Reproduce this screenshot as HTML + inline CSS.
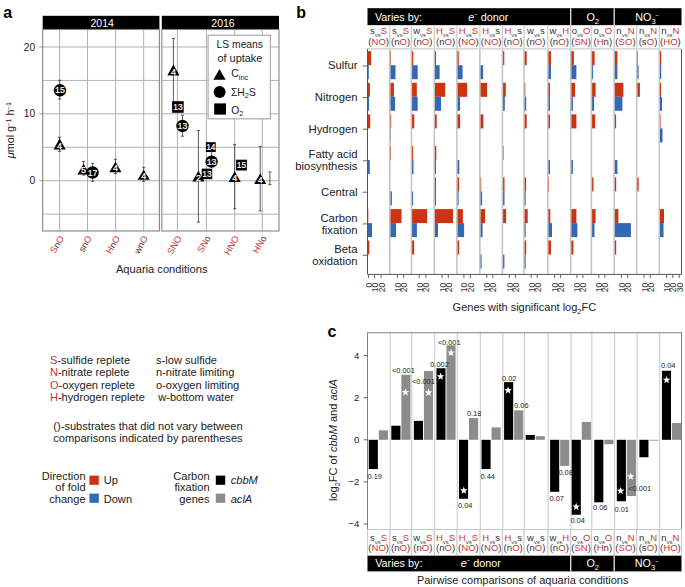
<!DOCTYPE html>
<html><head><meta charset="utf-8"><style>
html,body{margin:0;padding:0;background:#fff;}
svg{display:block;font-family:"Liberation Sans", sans-serif;}
</style></head><body>
<svg width="685" height="587" viewBox="0 0 685 587">
<rect width="685" height="587" fill="#fff"/>
<text x="3.20" y="17.70" font-size="16" fill="#000" text-anchor="start" font-weight="bold" font-style="normal" >a</text>
<text x="296.20" y="17.80" font-size="16" fill="#000" text-anchor="start" font-weight="bold" font-style="normal" >b</text>
<text x="327.60" y="337.20" font-size="16" fill="#000" text-anchor="start" font-weight="bold" font-style="normal" >c</text>
<rect x="42.70" y="15.80" width="116.70" height="13.70" fill="#000" />
<rect x="161.80" y="15.80" width="117.20" height="13.70" fill="#000" />
<text x="102.20" y="26.80" font-size="10.5" fill="#fff" text-anchor="middle" font-weight="normal" font-style="normal" >2014</text>
<text x="223.00" y="26.80" font-size="10.5" fill="#fff" text-anchor="middle" font-weight="normal" font-style="normal" >2016</text>
<line x1="42.70" y1="47.00" x2="159.40" y2="47.00" stroke="#b0b0b0" stroke-width="1.0" />
<line x1="42.70" y1="80.42" x2="159.40" y2="80.42" stroke="#b0b0b0" stroke-width="1.0" />
<line x1="42.70" y1="113.85" x2="159.40" y2="113.85" stroke="#b0b0b0" stroke-width="1.0" />
<line x1="42.70" y1="147.27" x2="159.40" y2="147.27" stroke="#b0b0b0" stroke-width="1.0" />
<line x1="42.70" y1="180.70" x2="159.40" y2="180.70" stroke="#b0b0b0" stroke-width="1.0" />
<line x1="42.70" y1="214.12" x2="159.40" y2="214.12" stroke="#b0b0b0" stroke-width="1.0" />
<line x1="59.60" y1="29.50" x2="59.60" y2="231.00" stroke="#b0b0b0" stroke-width="1.0" />
<line x1="87.50" y1="29.50" x2="87.50" y2="231.00" stroke="#b0b0b0" stroke-width="1.0" />
<line x1="115.60" y1="29.50" x2="115.60" y2="231.00" stroke="#b0b0b0" stroke-width="1.0" />
<line x1="143.70" y1="29.50" x2="143.70" y2="231.00" stroke="#b0b0b0" stroke-width="1.0" />
<rect x="42.70" y="29.50" width="116.70" height="201.50" fill="none" stroke="#858585" stroke-width="1.1"/>
<line x1="161.80" y1="47.00" x2="279.00" y2="47.00" stroke="#b0b0b0" stroke-width="1.0" />
<line x1="161.80" y1="80.42" x2="279.00" y2="80.42" stroke="#b0b0b0" stroke-width="1.0" />
<line x1="161.80" y1="113.85" x2="279.00" y2="113.85" stroke="#b0b0b0" stroke-width="1.0" />
<line x1="161.80" y1="147.27" x2="279.00" y2="147.27" stroke="#b0b0b0" stroke-width="1.0" />
<line x1="161.80" y1="180.70" x2="279.00" y2="180.70" stroke="#b0b0b0" stroke-width="1.0" />
<line x1="161.80" y1="214.12" x2="279.00" y2="214.12" stroke="#b0b0b0" stroke-width="1.0" />
<line x1="177.40" y1="29.50" x2="177.40" y2="231.00" stroke="#b0b0b0" stroke-width="1.0" />
<line x1="206.40" y1="29.50" x2="206.40" y2="231.00" stroke="#b0b0b0" stroke-width="1.0" />
<line x1="234.70" y1="29.50" x2="234.70" y2="231.00" stroke="#b0b0b0" stroke-width="1.0" />
<line x1="262.30" y1="29.50" x2="262.30" y2="231.00" stroke="#b0b0b0" stroke-width="1.0" />
<rect x="161.80" y="29.50" width="117.20" height="201.50" fill="none" stroke="#858585" stroke-width="1.1"/>
<line x1="39.20" y1="47.00" x2="42.70" y2="47.00" stroke="#858585" stroke-width="0.9" />
<text x="35.20" y="50.60" font-size="10.2" fill="#222" text-anchor="end" font-weight="normal" font-style="normal" >20</text>
<line x1="39.20" y1="113.85" x2="42.70" y2="113.85" stroke="#858585" stroke-width="0.9" />
<text x="35.20" y="117.45" font-size="10.2" fill="#222" text-anchor="end" font-weight="normal" font-style="normal" >10</text>
<line x1="39.20" y1="180.70" x2="42.70" y2="180.70" stroke="#858585" stroke-width="0.9" />
<text x="35.20" y="184.30" font-size="10.2" fill="#222" text-anchor="end" font-weight="normal" font-style="normal" >0</text>
<text transform="translate(14.2,130.3) rotate(-90)" font-size="11" fill="#222" text-anchor="middle" textLength="56" lengthAdjust="spacingAndGlyphs"><tspan font-style="italic">&#956;</tspan>mol g<tspan dy="-3.5" font-size="6.5">&#8722;1</tspan><tspan dy="3.5"> h</tspan><tspan dy="-3.5" font-size="6.5">&#8722;1</tspan></text>
<line x1="59.70" y1="80.30" x2="59.70" y2="99.10" stroke="#333" stroke-width="0.8" />
<line x1="58.10" y1="80.30" x2="61.30" y2="80.30" stroke="#333" stroke-width="0.8" />
<line x1="58.10" y1="99.10" x2="61.30" y2="99.10" stroke="#333" stroke-width="0.8" />
<circle cx="60.00" cy="90.30" r="6.2" fill="#000"/>
<text x="60.00" y="93.40" font-size="8.8" fill="#fff" text-anchor="middle" font-weight="normal" font-style="normal" stroke="#fff" stroke-width="0.2">15</text>
<line x1="59.60" y1="137.20" x2="59.60" y2="151.30" stroke="#333" stroke-width="0.8" />
<line x1="58.00" y1="137.20" x2="61.20" y2="137.20" stroke="#333" stroke-width="0.8" />
<line x1="58.00" y1="151.30" x2="61.20" y2="151.30" stroke="#333" stroke-width="0.8" />
<polygon points="59.60,138.50 65.70,149.60 53.50,149.60" fill="#000"/>
<text x="59.60" y="148.60" font-size="9.0" fill="#fff" text-anchor="middle" font-weight="normal" font-style="normal" stroke="#fff" stroke-width="0.25">4</text>
<line x1="83.60" y1="161.50" x2="83.60" y2="175.00" stroke="#333" stroke-width="0.8" />
<line x1="82.00" y1="161.50" x2="85.20" y2="161.50" stroke="#333" stroke-width="0.8" />
<line x1="82.00" y1="175.00" x2="85.20" y2="175.00" stroke="#333" stroke-width="0.8" />
<polygon points="83.60,163.80 89.70,174.40 77.50,174.40" fill="#000"/>
<text x="83.60" y="173.40" font-size="9.0" fill="#fff" text-anchor="middle" font-weight="normal" font-style="normal" stroke="#fff" stroke-width="0.25">5</text>
<line x1="92.60" y1="163.30" x2="92.60" y2="181.30" stroke="#333" stroke-width="0.8" />
<line x1="91.00" y1="163.30" x2="94.20" y2="163.30" stroke="#333" stroke-width="0.8" />
<line x1="91.00" y1="181.30" x2="94.20" y2="181.30" stroke="#333" stroke-width="0.8" />
<circle cx="92.60" cy="172.50" r="6.2" fill="#000"/>
<text x="92.60" y="175.60" font-size="8.8" fill="#fff" text-anchor="middle" font-weight="normal" font-style="normal" stroke="#fff" stroke-width="0.2">17</text>
<line x1="115.40" y1="159.30" x2="115.40" y2="173.60" stroke="#333" stroke-width="0.8" />
<line x1="113.80" y1="159.30" x2="117.00" y2="159.30" stroke="#333" stroke-width="0.8" />
<line x1="113.80" y1="173.60" x2="117.00" y2="173.60" stroke="#333" stroke-width="0.8" />
<polygon points="115.40,161.70 121.50,172.20 109.30,172.20" fill="#000"/>
<text x="115.40" y="171.20" font-size="9.0" fill="#fff" text-anchor="middle" font-weight="normal" font-style="normal" stroke="#fff" stroke-width="0.25">4</text>
<line x1="143.70" y1="167.40" x2="143.70" y2="181.30" stroke="#333" stroke-width="0.8" />
<line x1="142.10" y1="167.40" x2="145.30" y2="167.40" stroke="#333" stroke-width="0.8" />
<line x1="142.10" y1="181.30" x2="145.30" y2="181.30" stroke="#333" stroke-width="0.8" />
<polygon points="143.70,169.80 149.80,179.80 137.60,179.80" fill="#000"/>
<text x="143.70" y="178.80" font-size="9.0" fill="#fff" text-anchor="middle" font-weight="normal" font-style="normal" stroke="#fff" stroke-width="0.25">4</text>
<line x1="173.40" y1="38.50" x2="173.40" y2="104.00" stroke="#333" stroke-width="0.8" />
<line x1="171.80" y1="38.50" x2="175.00" y2="38.50" stroke="#333" stroke-width="0.8" />
<line x1="171.80" y1="104.00" x2="175.00" y2="104.00" stroke="#333" stroke-width="0.8" />
<polygon points="173.40,64.50 179.50,75.50 167.30,75.50" fill="#000"/>
<text x="173.40" y="74.50" font-size="9.0" fill="#fff" text-anchor="middle" font-weight="normal" font-style="normal" stroke="#fff" stroke-width="0.25">4</text>
<rect x="172.10" y="101.20" width="11.60" height="11.60" fill="#000" />
<text x="177.90" y="110.00" font-size="8.4" fill="#fff" text-anchor="middle" font-weight="normal" font-style="normal" stroke="#fff" stroke-width="0.2">13</text>
<line x1="182.50" y1="115.20" x2="182.50" y2="136.20" stroke="#333" stroke-width="0.8" />
<line x1="180.90" y1="115.20" x2="184.10" y2="115.20" stroke="#333" stroke-width="0.8" />
<line x1="180.90" y1="136.20" x2="184.10" y2="136.20" stroke="#333" stroke-width="0.8" />
<circle cx="182.50" cy="126.00" r="6.2" fill="#000"/>
<text x="182.50" y="129.10" font-size="8.8" fill="#fff" text-anchor="middle" font-weight="normal" font-style="normal" stroke="#fff" stroke-width="0.2">13</text>
<line x1="198.40" y1="130.50" x2="198.40" y2="222.10" stroke="#333" stroke-width="0.8" />
<line x1="196.80" y1="130.50" x2="200.00" y2="130.50" stroke="#333" stroke-width="0.8" />
<line x1="196.80" y1="222.10" x2="200.00" y2="222.10" stroke="#333" stroke-width="0.8" />
<polygon points="198.40,170.80 204.50,181.60 192.30,181.60" fill="#000"/>
<text x="198.40" y="180.60" font-size="9.0" fill="#fff" text-anchor="middle" font-weight="normal" font-style="normal" stroke="#fff" stroke-width="0.25">2</text>
<line x1="211.60" y1="150.00" x2="211.60" y2="168.00" stroke="#333" stroke-width="0.8" />
<line x1="211.60" y1="150.00" x2="211.60" y2="150.00" stroke="#333" stroke-width="0.8" />
<line x1="211.60" y1="168.00" x2="211.60" y2="168.00" stroke="#333" stroke-width="0.8" />
<rect x="201.75" y="168.65" width="10.50" height="10.50" fill="#000" />
<text x="207.00" y="176.90" font-size="8.4" fill="#fff" text-anchor="middle" font-weight="normal" font-style="normal" stroke="#fff" stroke-width="0.2">13</text>
<circle cx="211.60" cy="161.60" r="6.2" fill="#000"/>
<text x="211.60" y="164.70" font-size="8.8" fill="#fff" text-anchor="middle" font-weight="normal" font-style="normal" stroke="#fff" stroke-width="0.2">13</text>
<rect x="205.90" y="142.20" width="9.80" height="9.80" fill="#000" />
<text x="210.80" y="150.10" font-size="8.4" fill="#fff" text-anchor="middle" font-weight="normal" font-style="normal" stroke="#fff" stroke-width="0.2">14</text>
<line x1="234.70" y1="144.40" x2="234.70" y2="208.80" stroke="#333" stroke-width="0.8" />
<line x1="233.10" y1="144.40" x2="236.30" y2="144.40" stroke="#333" stroke-width="0.8" />
<line x1="233.10" y1="208.80" x2="236.30" y2="208.80" stroke="#333" stroke-width="0.8" />
<polygon points="234.70,171.20 240.80,182.00 228.60,182.00" fill="#000"/>
<text x="234.70" y="181.00" font-size="9.0" fill="#fff" text-anchor="middle" font-weight="normal" font-style="normal" stroke="#fff" stroke-width="0.25">4</text>
<rect x="236.10" y="159.70" width="10.80" height="10.80" fill="#000" />
<text x="241.50" y="168.10" font-size="8.4" fill="#fff" text-anchor="middle" font-weight="normal" font-style="normal" stroke="#fff" stroke-width="0.2">15</text>
<line x1="260.20" y1="146.40" x2="260.20" y2="210.90" stroke="#333" stroke-width="0.8" />
<line x1="258.60" y1="146.40" x2="261.80" y2="146.40" stroke="#333" stroke-width="0.8" />
<line x1="258.60" y1="210.90" x2="261.80" y2="210.90" stroke="#333" stroke-width="0.8" />
<polygon points="260.20,173.60 266.30,184.00 254.10,184.00" fill="#000"/>
<text x="260.20" y="183.00" font-size="9.0" fill="#fff" text-anchor="middle" font-weight="normal" font-style="normal" stroke="#fff" stroke-width="0.25">4</text>
<line x1="269.90" y1="172.00" x2="269.90" y2="184.70" stroke="#333" stroke-width="0.8" />
<line x1="268.30" y1="172.00" x2="271.50" y2="172.00" stroke="#333" stroke-width="0.8" />
<line x1="268.30" y1="184.70" x2="271.50" y2="184.70" stroke="#333" stroke-width="0.8" />
<rect x="208.10" y="35.30" width="62.30" height="83.50" fill="#fff" stroke="#aaaaaa" stroke-width="1.2"/>
<text x="239.80" y="48.00" font-size="10.3" fill="#222" text-anchor="middle" font-weight="normal" font-style="normal" >LS means</text>
<text x="239.90" y="61.90" font-size="10.3" fill="#222" text-anchor="middle" font-weight="normal" font-style="normal" textLength="45" lengthAdjust="spacingAndGlyphs">of uptake</text>
<polygon points="219.5,68.9 225.6,79.7 213.4,79.7" fill="#000"/>
<circle cx="219.6" cy="92.0" r="6.0" fill="#000"/>
<rect x="214.20" y="103.40" width="11.80" height="11.20" fill="#000" />
<text x="231.30" y="77.40" font-size="10.3" fill="#222" text-anchor="start" font-weight="normal" font-style="normal" >C<tspan font-size="7.4" dy="2.4">inc</tspan></text>
<text x="231.00" y="95.50" font-size="10.3" fill="#222" text-anchor="start" font-weight="normal" font-style="normal" >&#931;H<tspan font-size="7.4" dy="2.4">2</tspan><tspan dy="-2.4">S</tspan></text>
<text x="231.30" y="113.50" font-size="10.3" fill="#222" text-anchor="start" font-weight="normal" font-style="normal" >O<tspan font-size="7.4" dy="2.4">2</tspan></text>
<text transform="translate(64.30,238.10) rotate(-60)" font-size="9.2" text-anchor="end"><tspan fill="#cc3333">S</tspan><tspan fill="#333">n</tspan><tspan fill="#cc3333">O</tspan></text>
<text transform="translate(92.20,238.10) rotate(-60)" font-size="9.2" text-anchor="end"><tspan fill="#333">s</tspan><tspan fill="#333">n</tspan><tspan fill="#cc3333">O</tspan></text>
<text transform="translate(120.30,238.10) rotate(-60)" font-size="9.2" text-anchor="end"><tspan fill="#cc3333">H</tspan><tspan fill="#333">n</tspan><tspan fill="#cc3333">O</tspan></text>
<text transform="translate(148.40,238.10) rotate(-60)" font-size="9.2" text-anchor="end"><tspan fill="#333">w</tspan><tspan fill="#333">n</tspan><tspan fill="#cc3333">O</tspan></text>
<text transform="translate(182.10,238.10) rotate(-60)" font-size="9.2" text-anchor="end"><tspan fill="#cc3333">S</tspan><tspan fill="#cc3333">N</tspan><tspan fill="#cc3333">O</tspan></text>
<text transform="translate(211.10,238.10) rotate(-60)" font-size="9.2" text-anchor="end"><tspan fill="#cc3333">S</tspan><tspan fill="#cc3333">N</tspan><tspan fill="#333">o</tspan></text>
<text transform="translate(239.40,238.10) rotate(-60)" font-size="9.2" text-anchor="end"><tspan fill="#cc3333">H</tspan><tspan fill="#cc3333">N</tspan><tspan fill="#cc3333">O</tspan></text>
<text transform="translate(267.00,238.10) rotate(-60)" font-size="9.2" text-anchor="end"><tspan fill="#cc3333">H</tspan><tspan fill="#cc3333">N</tspan><tspan fill="#333">o</tspan></text>
<text x="115.90" y="273.20" font-size="11.1" fill="#222" text-anchor="start" font-weight="normal" font-style="normal" textLength="91.6" lengthAdjust="spacingAndGlyphs">Aquaria conditions</text>
<rect x="367.50" y="8.20" width="314.00" height="17.20" fill="#000" />
<line x1="570.70" y1="8.20" x2="570.70" y2="25.40" stroke="#d8d8d8" stroke-width="1.4" />
<line x1="614.20" y1="8.20" x2="614.20" y2="25.40" stroke="#d8d8d8" stroke-width="1.4" />
<text x="374.9" y="21.0" font-size="10.8" fill="#fff">Varies by:</text>
<text x="468.2" y="21.0" font-size="10.8" fill="#fff"><tspan font-style="italic">e</tspan><tspan dy="-5" font-size="6">&#8722;</tspan><tspan dy="5"> donor</tspan></text>
<text x="586.4" y="21.0" font-size="10.8" fill="#fff">O<tspan dy="2.5" font-size="7.5">2</tspan></text>
<text x="635.2" y="21.0" font-size="10.8" fill="#fff">NO<tspan dy="2.5" font-size="7.5">3</tspan><tspan dy="-7" font-size="6">&#8722;</tspan></text>
<rect x="367.50" y="25.40" width="314.00" height="22.90" fill="#fff" />
<text x="378.65" y="33.50" font-size="9.5" text-anchor="middle"><tspan fill="#333">s</tspan><tspan fill="#444" font-size="6.0" dy="3.0">vs</tspan><tspan fill="#cc3333" dy="-3.0">S</tspan></text>
<text x="378.65" y="44.70" font-size="9.6" text-anchor="middle"><tspan fill="#333">(</tspan><tspan fill="#cc3333">N</tspan><tspan fill="#cc3333">O</tspan><tspan fill="#333">)</tspan></text>
<text x="400.60" y="33.50" font-size="9.5" text-anchor="middle"><tspan fill="#333">s</tspan><tspan fill="#444" font-size="6.0" dy="3.0">vs</tspan><tspan fill="#cc3333" dy="-3.0">S</tspan></text>
<text x="400.60" y="44.70" font-size="9.6" text-anchor="middle"><tspan fill="#333">(</tspan><tspan fill="#333">n</tspan><tspan fill="#cc3333">O</tspan><tspan fill="#333">)</tspan></text>
<text x="422.85" y="33.50" font-size="9.5" text-anchor="middle"><tspan fill="#333">w</tspan><tspan fill="#444" font-size="6.0" dy="3.0">vs</tspan><tspan fill="#cc3333" dy="-3.0">S</tspan></text>
<text x="422.85" y="44.70" font-size="9.6" text-anchor="middle"><tspan fill="#333">(</tspan><tspan fill="#333">n</tspan><tspan fill="#cc3333">O</tspan><tspan fill="#333">)</tspan></text>
<text x="445.60" y="33.50" font-size="9.5" text-anchor="middle"><tspan fill="#cc3333">H</tspan><tspan fill="#444" font-size="6.0" dy="3.0">vs</tspan><tspan fill="#cc3333" dy="-3.0">S</tspan></text>
<text x="445.60" y="44.70" font-size="9.6" text-anchor="middle"><tspan fill="#333">(</tspan><tspan fill="#333">n</tspan><tspan fill="#cc3333">O</tspan><tspan fill="#333">)</tspan></text>
<text x="468.40" y="33.50" font-size="9.5" text-anchor="middle"><tspan fill="#cc3333">H</tspan><tspan fill="#444" font-size="6.0" dy="3.0">vs</tspan><tspan fill="#cc3333" dy="-3.0">S</tspan></text>
<text x="468.40" y="44.70" font-size="9.6" text-anchor="middle"><tspan fill="#333">(</tspan><tspan fill="#cc3333">N</tspan><tspan fill="#cc3333">O</tspan><tspan fill="#333">)</tspan></text>
<text x="491.15" y="33.50" font-size="9.5" text-anchor="middle"><tspan fill="#cc3333">H</tspan><tspan fill="#444" font-size="6.0" dy="3.0">vs</tspan><tspan fill="#333" dy="-3.0">s</tspan></text>
<text x="491.15" y="44.70" font-size="9.6" text-anchor="middle"><tspan fill="#333">(</tspan><tspan fill="#cc3333">N</tspan><tspan fill="#cc3333">O</tspan><tspan fill="#333">)</tspan></text>
<text x="513.20" y="33.50" font-size="9.5" text-anchor="middle"><tspan fill="#cc3333">H</tspan><tspan fill="#444" font-size="6.0" dy="3.0">vs</tspan><tspan fill="#333" dy="-3.0">s</tspan></text>
<text x="513.20" y="44.70" font-size="9.6" text-anchor="middle"><tspan fill="#333">(</tspan><tspan fill="#333">n</tspan><tspan fill="#cc3333">O</tspan><tspan fill="#333">)</tspan></text>
<text x="535.90" y="33.50" font-size="9.5" text-anchor="middle"><tspan fill="#333">w</tspan><tspan fill="#444" font-size="6.0" dy="3.0">vs</tspan><tspan fill="#333" dy="-3.0">s</tspan></text>
<text x="535.90" y="44.70" font-size="9.6" text-anchor="middle"><tspan fill="#333">(</tspan><tspan fill="#333">n</tspan><tspan fill="#cc3333">O</tspan><tspan fill="#333">)</tspan></text>
<text x="559.25" y="33.50" font-size="9.5" text-anchor="middle"><tspan fill="#333">w</tspan><tspan fill="#444" font-size="6.0" dy="3.0">vs</tspan><tspan fill="#cc3333" dy="-3.0">H</tspan></text>
<text x="559.25" y="44.70" font-size="9.6" text-anchor="middle"><tspan fill="#333">(</tspan><tspan fill="#333">n</tspan><tspan fill="#cc3333">O</tspan><tspan fill="#333">)</tspan></text>
<text x="581.05" y="33.50" font-size="9.5" text-anchor="middle"><tspan fill="#333">o</tspan><tspan fill="#444" font-size="6.0" dy="3.0">vs</tspan><tspan fill="#cc3333" dy="-3.0">O</tspan></text>
<text x="581.05" y="44.70" font-size="9.6" text-anchor="middle"><tspan fill="#333">(</tspan><tspan fill="#cc3333">S</tspan><tspan fill="#cc3333">N</tspan><tspan fill="#333">)</tspan></text>
<text x="602.80" y="33.50" font-size="9.5" text-anchor="middle"><tspan fill="#333">o</tspan><tspan fill="#444" font-size="6.0" dy="3.0">vs</tspan><tspan fill="#cc3333" dy="-3.0">O</tspan></text>
<text x="602.80" y="44.70" font-size="9.6" text-anchor="middle"><tspan fill="#333">(</tspan><tspan fill="#cc3333">H</tspan><tspan fill="#333">n</tspan><tspan fill="#333">)</tspan></text>
<text x="625.45" y="33.50" font-size="9.5" text-anchor="middle"><tspan fill="#333">n</tspan><tspan fill="#444" font-size="6.0" dy="3.0">vs</tspan><tspan fill="#cc3333" dy="-3.0">N</tspan></text>
<text x="625.45" y="44.70" font-size="9.6" text-anchor="middle"><tspan fill="#333">(</tspan><tspan fill="#cc3333">S</tspan><tspan fill="#cc3333">O</tspan><tspan fill="#333">)</tspan></text>
<text x="648.00" y="33.50" font-size="9.5" text-anchor="middle"><tspan fill="#333">n</tspan><tspan fill="#444" font-size="6.0" dy="3.0">vs</tspan><tspan fill="#cc3333" dy="-3.0">N</tspan></text>
<text x="648.00" y="44.70" font-size="9.6" text-anchor="middle"><tspan fill="#333">(</tspan><tspan fill="#333">s</tspan><tspan fill="#cc3333">O</tspan><tspan fill="#333">)</tspan></text>
<text x="670.40" y="33.50" font-size="9.5" text-anchor="middle"><tspan fill="#333">n</tspan><tspan fill="#444" font-size="6.0" dy="3.0">vs</tspan><tspan fill="#cc3333" dy="-3.0">N</tspan></text>
<text x="670.40" y="44.70" font-size="9.6" text-anchor="middle"><tspan fill="#333">(</tspan><tspan fill="#cc3333">H</tspan><tspan fill="#cc3333">O</tspan><tspan fill="#333">)</tspan></text>
<line x1="389.80" y1="25.40" x2="389.80" y2="48.30" stroke="#cccccc" stroke-width="1.3" />
<line x1="411.40" y1="25.40" x2="411.40" y2="48.30" stroke="#cccccc" stroke-width="1.3" />
<line x1="434.30" y1="25.40" x2="434.30" y2="48.30" stroke="#cccccc" stroke-width="1.3" />
<line x1="456.90" y1="25.40" x2="456.90" y2="48.30" stroke="#cccccc" stroke-width="1.3" />
<line x1="479.90" y1="25.40" x2="479.90" y2="48.30" stroke="#cccccc" stroke-width="1.3" />
<line x1="502.40" y1="25.40" x2="502.40" y2="48.30" stroke="#cccccc" stroke-width="1.3" />
<line x1="524.00" y1="25.40" x2="524.00" y2="48.30" stroke="#cccccc" stroke-width="1.3" />
<line x1="547.80" y1="25.40" x2="547.80" y2="48.30" stroke="#cccccc" stroke-width="1.3" />
<line x1="570.70" y1="25.40" x2="570.70" y2="48.30" stroke="#cccccc" stroke-width="1.3" />
<line x1="591.40" y1="25.40" x2="591.40" y2="48.30" stroke="#cccccc" stroke-width="1.3" />
<line x1="614.20" y1="25.40" x2="614.20" y2="48.30" stroke="#cccccc" stroke-width="1.3" />
<line x1="636.70" y1="25.40" x2="636.70" y2="48.30" stroke="#cccccc" stroke-width="1.3" />
<line x1="659.30" y1="25.40" x2="659.30" y2="48.30" stroke="#cccccc" stroke-width="1.3" />
<line x1="367.50" y1="48.90" x2="681.50" y2="48.90" stroke="#cccccc" stroke-width="1.3" />
<line x1="362.80" y1="66.00" x2="367.50" y2="66.00" stroke="#555" stroke-width="0.9" />
<text x="357.50" y="69.30" font-size="11.3" fill="#222" text-anchor="end" font-weight="normal" font-style="normal" >Sulfur</text>
<line x1="362.80" y1="97.60" x2="367.50" y2="97.60" stroke="#555" stroke-width="0.9" />
<text x="357.50" y="100.90" font-size="11.3" fill="#222" text-anchor="end" font-weight="normal" font-style="normal" >Nitrogen</text>
<line x1="362.80" y1="129.20" x2="367.50" y2="129.20" stroke="#555" stroke-width="0.9" />
<text x="357.50" y="132.50" font-size="11.3" fill="#222" text-anchor="end" font-weight="normal" font-style="normal" >Hydrogen</text>
<line x1="362.80" y1="160.80" x2="367.50" y2="160.80" stroke="#555" stroke-width="0.9" />
<text x="357.50" y="158.40" font-size="11.3" fill="#222" text-anchor="end" font-weight="normal" font-style="normal" >Fatty acid</text>
<text x="357.50" y="170.40" font-size="11.3" fill="#222" text-anchor="end" font-weight="normal" font-style="normal" >biosynthesis</text>
<line x1="362.80" y1="192.20" x2="367.50" y2="192.20" stroke="#555" stroke-width="0.9" />
<text x="357.50" y="195.50" font-size="11.3" fill="#222" text-anchor="end" font-weight="normal" font-style="normal" >Central</text>
<line x1="362.80" y1="223.90" x2="367.50" y2="223.90" stroke="#555" stroke-width="0.9" />
<text x="357.50" y="221.50" font-size="11.3" fill="#222" text-anchor="end" font-weight="normal" font-style="normal" >Carbon</text>
<text x="357.50" y="233.50" font-size="11.3" fill="#222" text-anchor="end" font-weight="normal" font-style="normal" >fixation</text>
<line x1="362.80" y1="255.30" x2="367.50" y2="255.30" stroke="#555" stroke-width="0.9" />
<text x="357.50" y="252.90" font-size="11.3" fill="#222" text-anchor="end" font-weight="normal" font-style="normal" >Beta</text>
<text x="357.50" y="264.90" font-size="11.3" fill="#222" text-anchor="end" font-weight="normal" font-style="normal" >oxidation</text>
<line x1="389.80" y1="49.60" x2="389.80" y2="274.40" stroke="#c4c4c4" stroke-width="1.6" />
<line x1="411.40" y1="49.60" x2="411.40" y2="274.40" stroke="#c4c4c4" stroke-width="1.6" />
<line x1="434.30" y1="49.60" x2="434.30" y2="274.40" stroke="#c4c4c4" stroke-width="1.6" />
<line x1="456.90" y1="49.60" x2="456.90" y2="274.40" stroke="#c4c4c4" stroke-width="1.6" />
<line x1="479.90" y1="49.60" x2="479.90" y2="274.40" stroke="#c4c4c4" stroke-width="1.6" />
<line x1="502.40" y1="49.60" x2="502.40" y2="274.40" stroke="#c4c4c4" stroke-width="1.6" />
<line x1="524.00" y1="49.60" x2="524.00" y2="274.40" stroke="#c4c4c4" stroke-width="1.6" />
<line x1="547.80" y1="49.60" x2="547.80" y2="274.40" stroke="#c4c4c4" stroke-width="1.6" />
<line x1="570.70" y1="49.60" x2="570.70" y2="274.40" stroke="#c4c4c4" stroke-width="1.6" />
<line x1="591.40" y1="49.60" x2="591.40" y2="274.40" stroke="#c4c4c4" stroke-width="1.6" />
<line x1="614.20" y1="49.60" x2="614.20" y2="274.40" stroke="#c4c4c4" stroke-width="1.6" />
<line x1="636.70" y1="49.60" x2="636.70" y2="274.40" stroke="#c4c4c4" stroke-width="1.6" />
<line x1="659.30" y1="49.60" x2="659.30" y2="274.40" stroke="#c4c4c4" stroke-width="1.6" />
<line x1="367.50" y1="48.90" x2="367.50" y2="274.40" stroke="#555" stroke-width="1.0" />
<line x1="681.50" y1="48.90" x2="681.50" y2="274.40" stroke="#555" stroke-width="1.0" />
<line x1="367.50" y1="274.40" x2="681.50" y2="274.40" stroke="#555" stroke-width="1.0" />
<rect x="367.80" y="51.20" width="3.30" height="14.00" fill="#cc3311" />
<rect x="367.80" y="65.20" width="1.00" height="14.00" fill="#3368b4" />
<rect x="367.80" y="82.80" width="2.10" height="14.00" fill="#cc3311" />
<rect x="367.80" y="96.80" width="1.20" height="14.00" fill="#3368b4" />
<rect x="367.80" y="114.40" width="2.40" height="14.00" fill="#cc3311" />
<rect x="367.80" y="160.00" width="2.00" height="14.00" fill="#3368b4" />
<rect x="367.80" y="209.10" width="0.50" height="14.00" fill="#cc3311" />
<rect x="367.80" y="223.10" width="4.20" height="14.00" fill="#3368b4" />
<rect x="367.80" y="240.50" width="1.50" height="14.00" fill="#cc3311" />
<rect x="390.50" y="51.20" width="0.50" height="14.00" fill="#cc3311" />
<rect x="390.50" y="65.20" width="5.00" height="14.00" fill="#3368b4" />
<rect x="390.50" y="82.80" width="3.40" height="14.00" fill="#cc3311" />
<rect x="390.50" y="96.80" width="4.60" height="14.00" fill="#3368b4" />
<rect x="390.50" y="114.40" width="0.70" height="14.00" fill="#cc3311" />
<rect x="390.50" y="128.40" width="0.40" height="14.00" fill="#3368b4" />
<rect x="390.50" y="146.00" width="0.50" height="14.00" fill="#cc3311" />
<rect x="390.50" y="191.40" width="1.40" height="14.00" fill="#3368b4" />
<rect x="390.50" y="209.10" width="11.00" height="14.00" fill="#cc3311" />
<rect x="390.50" y="223.10" width="5.50" height="14.00" fill="#3368b4" />
<rect x="412.10" y="51.20" width="1.20" height="14.00" fill="#cc3311" />
<rect x="412.10" y="65.20" width="5.60" height="14.00" fill="#3368b4" />
<rect x="412.10" y="82.80" width="4.70" height="14.00" fill="#cc3311" />
<rect x="412.10" y="96.80" width="5.60" height="14.00" fill="#3368b4" />
<rect x="412.10" y="114.40" width="2.20" height="14.00" fill="#cc3311" />
<rect x="412.10" y="146.00" width="1.00" height="14.00" fill="#cc3311" />
<rect x="412.10" y="160.00" width="1.40" height="14.00" fill="#3368b4" />
<rect x="412.10" y="191.40" width="1.00" height="14.00" fill="#3368b4" />
<rect x="412.10" y="209.10" width="15.00" height="14.00" fill="#cc3311" />
<rect x="412.10" y="223.10" width="4.80" height="14.00" fill="#3368b4" />
<rect x="412.10" y="240.50" width="2.00" height="14.00" fill="#cc3311" />
<rect x="435.00" y="51.20" width="1.00" height="14.00" fill="#cc3311" />
<rect x="435.00" y="65.20" width="4.60" height="14.00" fill="#3368b4" />
<rect x="435.00" y="82.80" width="10.20" height="14.00" fill="#cc3311" />
<rect x="435.00" y="96.80" width="6.00" height="14.00" fill="#3368b4" />
<rect x="435.00" y="114.40" width="1.70" height="14.00" fill="#cc3311" />
<rect x="435.00" y="146.00" width="1.30" height="14.00" fill="#cc3311" />
<rect x="435.00" y="160.00" width="1.00" height="14.00" fill="#3368b4" />
<rect x="435.00" y="177.40" width="1.00" height="14.00" fill="#cc3311" />
<rect x="435.00" y="191.40" width="1.00" height="14.00" fill="#3368b4" />
<rect x="435.00" y="209.10" width="18.00" height="14.00" fill="#cc3311" />
<rect x="435.00" y="223.10" width="3.00" height="14.00" fill="#3368b4" />
<rect x="457.60" y="51.20" width="1.20" height="14.00" fill="#cc3311" />
<rect x="457.60" y="65.20" width="5.00" height="14.00" fill="#3368b4" />
<rect x="457.60" y="82.80" width="9.50" height="14.00" fill="#cc3311" />
<rect x="457.60" y="96.80" width="2.50" height="14.00" fill="#3368b4" />
<rect x="457.60" y="114.40" width="2.50" height="14.00" fill="#cc3311" />
<rect x="457.60" y="160.00" width="1.70" height="14.00" fill="#3368b4" />
<rect x="457.60" y="177.40" width="1.50" height="14.00" fill="#cc3311" />
<rect x="457.60" y="191.40" width="1.00" height="14.00" fill="#3368b4" />
<rect x="457.60" y="209.10" width="5.30" height="14.00" fill="#cc3311" />
<rect x="457.60" y="223.10" width="6.50" height="14.00" fill="#3368b4" />
<rect x="457.60" y="240.50" width="1.50" height="14.00" fill="#cc3311" />
<rect x="480.60" y="65.20" width="2.50" height="14.00" fill="#3368b4" />
<rect x="480.60" y="82.80" width="6.50" height="14.00" fill="#cc3311" />
<rect x="480.60" y="114.40" width="2.80" height="14.00" fill="#cc3311" />
<rect x="480.60" y="177.40" width="0.60" height="14.00" fill="#cc3311" />
<rect x="480.60" y="191.40" width="1.50" height="14.00" fill="#3368b4" />
<rect x="480.60" y="209.10" width="4.50" height="14.00" fill="#cc3311" />
<rect x="480.60" y="223.10" width="2.00" height="14.00" fill="#3368b4" />
<rect x="480.60" y="254.50" width="1.00" height="14.00" fill="#3368b4" />
<rect x="503.10" y="51.20" width="1.20" height="14.00" fill="#cc3311" />
<rect x="503.10" y="82.80" width="2.70" height="14.00" fill="#cc3311" />
<rect x="503.10" y="96.80" width="1.70" height="14.00" fill="#3368b4" />
<rect x="503.10" y="146.00" width="0.50" height="14.00" fill="#cc3311" />
<rect x="503.10" y="177.40" width="1.40" height="14.00" fill="#cc3311" />
<rect x="503.10" y="191.40" width="1.40" height="14.00" fill="#3368b4" />
<rect x="503.10" y="209.10" width="3.00" height="14.00" fill="#cc3311" />
<rect x="503.10" y="254.50" width="1.30" height="14.00" fill="#3368b4" />
<rect x="524.70" y="51.20" width="2.00" height="14.00" fill="#cc3311" />
<rect x="524.70" y="82.80" width="0.60" height="14.00" fill="#cc3311" />
<rect x="524.70" y="96.80" width="1.50" height="14.00" fill="#3368b4" />
<rect x="524.70" y="114.40" width="2.00" height="14.00" fill="#cc3311" />
<rect x="524.70" y="177.40" width="1.40" height="14.00" fill="#cc3311" />
<rect x="524.70" y="191.40" width="1.00" height="14.00" fill="#3368b4" />
<rect x="524.70" y="209.10" width="3.00" height="14.00" fill="#cc3311" />
<rect x="524.70" y="223.10" width="1.00" height="14.00" fill="#3368b4" />
<rect x="524.70" y="240.50" width="1.50" height="14.00" fill="#cc3311" />
<rect x="524.70" y="254.50" width="1.00" height="14.00" fill="#3368b4" />
<rect x="548.50" y="51.20" width="2.50" height="14.00" fill="#cc3311" />
<rect x="548.50" y="65.20" width="2.50" height="14.00" fill="#3368b4" />
<rect x="548.50" y="82.80" width="1.50" height="14.00" fill="#cc3311" />
<rect x="548.50" y="96.80" width="1.50" height="14.00" fill="#3368b4" />
<rect x="548.50" y="114.40" width="1.50" height="14.00" fill="#cc3311" />
<rect x="548.50" y="160.00" width="1.50" height="14.00" fill="#3368b4" />
<rect x="548.50" y="177.40" width="0.50" height="14.00" fill="#cc3311" />
<rect x="548.50" y="209.10" width="1.80" height="14.00" fill="#cc3311" />
<rect x="548.50" y="223.10" width="3.50" height="14.00" fill="#3368b4" />
<rect x="548.50" y="240.50" width="2.50" height="14.00" fill="#cc3311" />
<rect x="571.40" y="51.20" width="2.50" height="14.00" fill="#cc3311" />
<rect x="571.40" y="65.20" width="5.00" height="14.00" fill="#3368b4" />
<rect x="571.40" y="82.80" width="3.70" height="14.00" fill="#cc3311" />
<rect x="571.40" y="96.80" width="1.50" height="14.00" fill="#3368b4" />
<rect x="571.40" y="114.40" width="5.00" height="14.00" fill="#cc3311" />
<rect x="571.40" y="160.00" width="1.50" height="14.00" fill="#3368b4" />
<rect x="571.40" y="209.10" width="5.00" height="14.00" fill="#cc3311" />
<rect x="571.40" y="223.10" width="6.00" height="14.00" fill="#3368b4" />
<rect x="571.40" y="240.50" width="2.00" height="14.00" fill="#cc3311" />
<rect x="592.10" y="51.20" width="2.50" height="14.00" fill="#cc3311" />
<rect x="592.10" y="65.20" width="1.00" height="14.00" fill="#3368b4" />
<rect x="592.10" y="82.80" width="3.50" height="14.00" fill="#cc3311" />
<rect x="592.10" y="96.80" width="2.00" height="14.00" fill="#3368b4" />
<rect x="592.10" y="114.40" width="3.00" height="14.00" fill="#cc3311" />
<rect x="592.10" y="177.40" width="1.40" height="14.00" fill="#cc3311" />
<rect x="592.10" y="209.10" width="3.50" height="14.00" fill="#cc3311" />
<rect x="592.10" y="223.10" width="2.40" height="14.00" fill="#3368b4" />
<rect x="614.90" y="51.20" width="2.50" height="14.00" fill="#cc3311" />
<rect x="614.90" y="65.20" width="2.50" height="14.00" fill="#3368b4" />
<rect x="614.90" y="82.80" width="8.50" height="14.00" fill="#cc3311" />
<rect x="614.90" y="96.80" width="7.50" height="14.00" fill="#3368b4" />
<rect x="614.90" y="114.40" width="1.20" height="14.00" fill="#cc3311" />
<rect x="614.90" y="160.00" width="2.50" height="14.00" fill="#3368b4" />
<rect x="614.90" y="177.40" width="1.30" height="14.00" fill="#cc3311" />
<rect x="614.90" y="209.10" width="3.50" height="14.00" fill="#cc3311" />
<rect x="614.90" y="223.10" width="16.00" height="14.00" fill="#3368b4" />
<rect x="614.90" y="240.50" width="1.30" height="14.00" fill="#cc3311" />
<rect x="637.40" y="51.20" width="0.50" height="14.00" fill="#cc3311" />
<rect x="637.40" y="65.20" width="1.20" height="14.00" fill="#3368b4" />
<rect x="637.40" y="82.80" width="2.50" height="14.00" fill="#cc3311" />
<rect x="637.40" y="177.40" width="1.30" height="14.00" fill="#cc3311" />
<rect x="660.00" y="51.20" width="1.20" height="14.00" fill="#cc3311" />
<rect x="660.00" y="65.20" width="1.20" height="14.00" fill="#3368b4" />
<rect x="660.00" y="82.80" width="1.00" height="14.00" fill="#cc3311" />
<rect x="660.00" y="96.80" width="2.00" height="14.00" fill="#3368b4" />
<rect x="660.00" y="114.40" width="0.50" height="14.00" fill="#cc3311" />
<rect x="660.00" y="128.40" width="2.50" height="14.00" fill="#3368b4" />
<rect x="660.00" y="209.10" width="4.00" height="14.00" fill="#cc3311" />
<rect x="660.00" y="223.10" width="3.50" height="14.00" fill="#3368b4" />
<line x1="368.50" y1="274.40" x2="368.50" y2="278.00" stroke="#555" stroke-width="0.9" />
<text transform="translate(371.90,282.6) rotate(-90)" font-size="8.6" fill="#333" text-anchor="end">0</text>
<line x1="374.60" y1="274.40" x2="374.60" y2="278.00" stroke="#555" stroke-width="0.9" />
<text transform="translate(378.00,282.6) rotate(-90)" font-size="8.6" fill="#333" text-anchor="end">10</text>
<line x1="381.10" y1="274.40" x2="381.10" y2="278.00" stroke="#555" stroke-width="0.9" />
<text transform="translate(384.50,282.6) rotate(-90)" font-size="8.6" fill="#333" text-anchor="end">20</text>
<line x1="397.50" y1="274.40" x2="397.50" y2="278.00" stroke="#555" stroke-width="0.9" />
<text transform="translate(400.90,282.6) rotate(-90)" font-size="8.6" fill="#333" text-anchor="end">10</text>
<line x1="403.60" y1="274.40" x2="403.60" y2="278.00" stroke="#555" stroke-width="0.9" />
<text transform="translate(407.00,282.6) rotate(-90)" font-size="8.6" fill="#333" text-anchor="end">20</text>
<line x1="419.20" y1="274.40" x2="419.20" y2="278.00" stroke="#555" stroke-width="0.9" />
<text transform="translate(422.60,282.6) rotate(-90)" font-size="8.6" fill="#333" text-anchor="end">10</text>
<line x1="425.90" y1="274.40" x2="425.90" y2="278.00" stroke="#555" stroke-width="0.9" />
<text transform="translate(429.30,282.6) rotate(-90)" font-size="8.6" fill="#333" text-anchor="end">20</text>
<line x1="442.10" y1="274.40" x2="442.10" y2="278.00" stroke="#555" stroke-width="0.9" />
<text transform="translate(445.50,282.6) rotate(-90)" font-size="8.6" fill="#333" text-anchor="end">10</text>
<line x1="448.30" y1="274.40" x2="448.30" y2="278.00" stroke="#555" stroke-width="0.9" />
<text transform="translate(451.70,282.6) rotate(-90)" font-size="8.6" fill="#333" text-anchor="end">20</text>
<line x1="463.90" y1="274.40" x2="463.90" y2="278.00" stroke="#555" stroke-width="0.9" />
<text transform="translate(467.30,282.6) rotate(-90)" font-size="8.6" fill="#333" text-anchor="end">10</text>
<line x1="470.30" y1="274.40" x2="470.30" y2="278.00" stroke="#555" stroke-width="0.9" />
<text transform="translate(473.70,282.6) rotate(-90)" font-size="8.6" fill="#333" text-anchor="end">20</text>
<line x1="486.80" y1="274.40" x2="486.80" y2="278.00" stroke="#555" stroke-width="0.9" />
<text transform="translate(490.20,282.6) rotate(-90)" font-size="8.6" fill="#333" text-anchor="end">10</text>
<line x1="492.80" y1="274.40" x2="492.80" y2="278.00" stroke="#555" stroke-width="0.9" />
<text transform="translate(496.20,282.6) rotate(-90)" font-size="8.6" fill="#333" text-anchor="end">20</text>
<line x1="509.30" y1="274.40" x2="509.30" y2="278.00" stroke="#555" stroke-width="0.9" />
<text transform="translate(512.70,282.6) rotate(-90)" font-size="8.6" fill="#333" text-anchor="end">10</text>
<line x1="515.40" y1="274.40" x2="515.40" y2="278.00" stroke="#555" stroke-width="0.9" />
<text transform="translate(518.80,282.6) rotate(-90)" font-size="8.6" fill="#333" text-anchor="end">20</text>
<line x1="531.10" y1="274.40" x2="531.10" y2="278.00" stroke="#555" stroke-width="0.9" />
<text transform="translate(534.50,282.6) rotate(-90)" font-size="8.6" fill="#333" text-anchor="end">10</text>
<line x1="537.20" y1="274.40" x2="537.20" y2="278.00" stroke="#555" stroke-width="0.9" />
<text transform="translate(540.60,282.6) rotate(-90)" font-size="8.6" fill="#333" text-anchor="end">20</text>
<line x1="554.60" y1="274.40" x2="554.60" y2="278.00" stroke="#555" stroke-width="0.9" />
<text transform="translate(558.00,282.6) rotate(-90)" font-size="8.6" fill="#333" text-anchor="end">10</text>
<line x1="560.60" y1="274.40" x2="560.60" y2="278.00" stroke="#555" stroke-width="0.9" />
<text transform="translate(564.00,282.6) rotate(-90)" font-size="8.6" fill="#333" text-anchor="end">20</text>
<line x1="576.90" y1="274.40" x2="576.90" y2="278.00" stroke="#555" stroke-width="0.9" />
<text transform="translate(580.30,282.6) rotate(-90)" font-size="8.6" fill="#333" text-anchor="end">10</text>
<line x1="582.90" y1="274.40" x2="582.90" y2="278.00" stroke="#555" stroke-width="0.9" />
<text transform="translate(586.30,282.6) rotate(-90)" font-size="8.6" fill="#333" text-anchor="end">20</text>
<line x1="598.90" y1="274.40" x2="598.90" y2="278.00" stroke="#555" stroke-width="0.9" />
<text transform="translate(602.30,282.6) rotate(-90)" font-size="8.6" fill="#333" text-anchor="end">10</text>
<line x1="604.90" y1="274.40" x2="604.90" y2="278.00" stroke="#555" stroke-width="0.9" />
<text transform="translate(608.30,282.6) rotate(-90)" font-size="8.6" fill="#333" text-anchor="end">20</text>
<line x1="621.50" y1="274.40" x2="621.50" y2="278.00" stroke="#555" stroke-width="0.9" />
<text transform="translate(624.90,282.6) rotate(-90)" font-size="8.6" fill="#333" text-anchor="end">10</text>
<line x1="627.70" y1="274.40" x2="627.70" y2="278.00" stroke="#555" stroke-width="0.9" />
<text transform="translate(631.10,282.6) rotate(-90)" font-size="8.6" fill="#333" text-anchor="end">20</text>
<line x1="644.10" y1="274.40" x2="644.10" y2="278.00" stroke="#555" stroke-width="0.9" />
<text transform="translate(647.50,282.6) rotate(-90)" font-size="8.6" fill="#333" text-anchor="end">10</text>
<line x1="650.30" y1="274.40" x2="650.30" y2="278.00" stroke="#555" stroke-width="0.9" />
<text transform="translate(653.70,282.6) rotate(-90)" font-size="8.6" fill="#333" text-anchor="end">20</text>
<line x1="666.60" y1="274.40" x2="666.60" y2="278.00" stroke="#555" stroke-width="0.9" />
<text transform="translate(670.00,282.6) rotate(-90)" font-size="8.6" fill="#333" text-anchor="end">10</text>
<line x1="672.80" y1="274.40" x2="672.80" y2="278.00" stroke="#555" stroke-width="0.9" />
<text transform="translate(676.20,282.6) rotate(-90)" font-size="8.6" fill="#333" text-anchor="end">20</text>
<line x1="679.30" y1="274.40" x2="679.30" y2="278.00" stroke="#555" stroke-width="0.9" />
<text transform="translate(682.70,282.6) rotate(-90)" font-size="8.6" fill="#333" text-anchor="end">30</text>
<text x="452.60" y="311.30" font-size="11.0" fill="#222" text-anchor="start" font-weight="normal" font-style="normal" >Genes with significant log<tspan font-size="7.5" dy="2.5">2</tspan><tspan dy="-2.5">FC</tspan></text>
<line x1="390.20" y1="332.70" x2="390.20" y2="529.60" stroke="#cdcdcd" stroke-width="1.1" />
<line x1="411.80" y1="332.70" x2="411.80" y2="529.60" stroke="#cdcdcd" stroke-width="1.1" />
<line x1="434.70" y1="332.70" x2="434.70" y2="529.60" stroke="#cdcdcd" stroke-width="1.1" />
<line x1="457.30" y1="332.70" x2="457.30" y2="529.60" stroke="#cdcdcd" stroke-width="1.1" />
<line x1="480.30" y1="332.70" x2="480.30" y2="529.60" stroke="#cdcdcd" stroke-width="1.1" />
<line x1="502.80" y1="332.70" x2="502.80" y2="529.60" stroke="#cdcdcd" stroke-width="1.1" />
<line x1="524.40" y1="332.70" x2="524.40" y2="529.60" stroke="#cdcdcd" stroke-width="1.1" />
<line x1="548.20" y1="332.70" x2="548.20" y2="529.60" stroke="#cdcdcd" stroke-width="1.1" />
<line x1="571.10" y1="332.70" x2="571.10" y2="529.60" stroke="#cdcdcd" stroke-width="1.1" />
<line x1="591.80" y1="332.70" x2="591.80" y2="529.60" stroke="#cdcdcd" stroke-width="1.1" />
<line x1="614.60" y1="332.70" x2="614.60" y2="529.60" stroke="#cdcdcd" stroke-width="1.1" />
<line x1="637.10" y1="332.70" x2="637.10" y2="529.60" stroke="#cdcdcd" stroke-width="1.1" />
<line x1="659.70" y1="332.70" x2="659.70" y2="529.60" stroke="#cdcdcd" stroke-width="1.1" />
<rect x="368.77" y="439.80" width="9.10" height="29.26" fill="#000" />
<rect x="378.82" y="430.33" width="9.10" height="9.47" fill="#8c8c8c" />
<rect x="391.32" y="425.70" width="9.10" height="14.10" fill="#000" />
<rect x="401.37" y="374.76" width="9.10" height="65.04" fill="#8c8c8c" />
<rect x="413.87" y="420.86" width="9.10" height="18.94" fill="#000" />
<rect x="423.92" y="370.97" width="9.10" height="68.83" fill="#8c8c8c" />
<rect x="436.42" y="368.23" width="9.10" height="71.57" fill="#000" />
<rect x="446.47" y="345.29" width="9.10" height="94.51" fill="#8c8c8c" />
<rect x="458.97" y="439.80" width="9.10" height="58.94" fill="#000" />
<rect x="469.02" y="418.12" width="9.10" height="21.68" fill="#8c8c8c" />
<rect x="481.52" y="439.80" width="9.10" height="29.26" fill="#000" />
<rect x="491.57" y="427.38" width="9.10" height="12.42" fill="#8c8c8c" />
<rect x="504.07" y="382.12" width="9.10" height="57.68" fill="#000" />
<rect x="514.12" y="410.33" width="9.10" height="29.47" fill="#8c8c8c" />
<rect x="525.70" y="434.96" width="9.10" height="4.84" fill="#000" />
<rect x="535.75" y="436.22" width="9.10" height="3.58" fill="#8c8c8c" />
<rect x="550.10" y="439.80" width="9.10" height="51.99" fill="#000" />
<rect x="560.15" y="439.80" width="9.10" height="26.10" fill="#8c8c8c" />
<rect x="571.72" y="439.80" width="9.10" height="74.94" fill="#000" />
<rect x="581.77" y="421.91" width="9.10" height="17.89" fill="#8c8c8c" />
<rect x="594.27" y="439.80" width="9.10" height="62.52" fill="#000" />
<rect x="604.32" y="439.80" width="9.10" height="4.42" fill="#8c8c8c" />
<rect x="616.82" y="439.80" width="9.10" height="61.47" fill="#000" />
<rect x="626.87" y="439.80" width="9.10" height="56.20" fill="#8c8c8c" />
<rect x="639.37" y="439.80" width="9.10" height="17.47" fill="#000" />
<rect x="649.42" y="439.80" width="9.10" height="0.80" fill="#8c8c8c" />
<rect x="661.92" y="370.76" width="9.10" height="69.04" fill="#000" />
<rect x="671.97" y="422.96" width="9.10" height="16.84" fill="#8c8c8c" />
<rect x="367.50" y="332.70" width="314.00" height="196.90" fill="none" stroke="#808080" stroke-width="1.0"/>
<line x1="363.70" y1="355.60" x2="367.50" y2="355.60" stroke="#555" stroke-width="0.9" />
<text x="359.30" y="359.00" font-size="9.6" fill="#222" text-anchor="end" font-weight="normal" font-style="normal" >4</text>
<line x1="363.70" y1="397.70" x2="367.50" y2="397.70" stroke="#555" stroke-width="0.9" />
<text x="359.30" y="401.10" font-size="9.6" fill="#222" text-anchor="end" font-weight="normal" font-style="normal" >2</text>
<line x1="363.70" y1="439.80" x2="367.50" y2="439.80" stroke="#555" stroke-width="0.9" />
<text x="359.30" y="443.20" font-size="9.6" fill="#222" text-anchor="end" font-weight="normal" font-style="normal" >0</text>
<line x1="363.70" y1="481.90" x2="367.50" y2="481.90" stroke="#555" stroke-width="0.9" />
<text x="359.30" y="485.30" font-size="9.6" fill="#222" text-anchor="end" font-weight="normal" font-style="normal" >&#8722;2</text>
<line x1="363.70" y1="524.00" x2="367.50" y2="524.00" stroke="#555" stroke-width="0.9" />
<text x="359.30" y="527.40" font-size="9.6" fill="#222" text-anchor="end" font-weight="normal" font-style="normal" >&#8722;4</text>
<text transform="translate(337.2,440.1) rotate(-90)" font-size="11.0" fill="#222" text-anchor="middle" textLength="122" lengthAdjust="spacingAndGlyphs">log<tspan font-size="7.5" dy="2.5">2</tspan><tspan dy="-2.5">FC of </tspan><tspan font-style="italic">cbbM</tspan> and <tspan font-style="italic">aclA</tspan></text>
<polygon points="405.50,388.30 406.49,390.94 409.30,391.06 407.10,392.82 407.85,395.54 405.50,393.98 403.15,395.54 403.90,392.82 401.70,391.06 404.51,390.94" fill="#fff"/>
<polygon points="428.50,388.70 429.49,391.34 432.30,391.46 430.10,393.22 430.85,395.94 428.50,394.38 426.15,395.94 426.90,393.22 424.70,391.46 427.51,391.34" fill="#fff"/>
<polygon points="440.60,372.50 441.59,375.14 444.40,375.26 442.20,377.02 442.95,379.74 440.60,378.18 438.25,379.74 439.00,377.02 436.80,375.26 439.61,375.14" fill="#fff"/>
<polygon points="451.10,348.80 452.09,351.44 454.90,351.56 452.70,353.32 453.45,356.04 451.10,354.48 448.75,356.04 449.50,353.32 447.30,351.56 450.11,351.44" fill="#fff"/>
<polygon points="508.10,386.40 509.09,389.04 511.90,389.16 509.70,390.92 510.45,393.64 508.10,392.08 505.75,393.64 506.50,390.92 504.30,389.16 507.11,389.04" fill="#fff"/>
<polygon points="666.60,376.00 667.59,378.64 670.40,378.76 668.20,380.52 668.95,383.24 666.60,381.68 664.25,383.24 665.00,380.52 662.80,378.76 665.61,378.64" fill="#fff"/>
<polygon points="463.80,486.50 464.79,489.14 467.60,489.26 465.40,491.02 466.15,493.74 463.80,492.18 461.45,493.74 462.20,491.02 460.00,489.26 462.81,489.14" fill="#fff"/>
<polygon points="576.20,502.80 577.19,505.44 580.00,505.56 577.80,507.32 578.55,510.04 576.20,508.48 573.85,510.04 574.60,507.32 572.40,505.56 575.21,505.44" fill="#fff"/>
<polygon points="620.60,486.90 621.59,489.54 624.40,489.66 622.20,491.42 622.95,494.14 620.60,492.58 618.25,494.14 619.00,491.42 616.80,489.66 619.61,489.54" fill="#fff"/>
<polygon points="630.70,472.50 631.69,475.14 634.50,475.26 632.30,477.02 633.05,479.74 630.70,478.18 628.35,479.74 629.10,477.02 626.90,475.26 629.71,475.14" fill="#fff"/>
<text x="367.60" y="478.70" font-size="7.4" fill="#222" text-anchor="start" font-weight="normal" font-style="normal" >0.19</text>
<text x="392.00" y="373.20" font-size="7.4" fill="#222" text-anchor="start" font-weight="normal" font-style="normal" >&lt;0.001</text>
<text x="412.00" y="383.50" font-size="7.4" fill="#222" text-anchor="start" font-weight="normal" font-style="normal" >&lt;0.001</text>
<text x="430.30" y="366.60" font-size="7.4" fill="#222" text-anchor="start" font-weight="normal" font-style="normal" >0.002</text>
<text x="437.70" y="344.50" font-size="7.4" fill="#222" text-anchor="start" font-weight="normal" font-style="normal" >&lt;0.001</text>
<text x="466.90" y="415.90" font-size="7.4" fill="#222" text-anchor="start" font-weight="normal" font-style="normal" >0.18</text>
<text x="458.00" y="507.90" font-size="7.4" fill="#222" text-anchor="start" font-weight="normal" font-style="normal" >0.04</text>
<text x="480.50" y="479.30" font-size="7.4" fill="#222" text-anchor="start" font-weight="normal" font-style="normal" >0.44</text>
<text x="502.00" y="380.60" font-size="7.4" fill="#222" text-anchor="start" font-weight="normal" font-style="normal" >0.02</text>
<text x="514.20" y="407.60" font-size="7.4" fill="#222" text-anchor="start" font-weight="normal" font-style="normal" >0.06</text>
<text x="549.50" y="501.00" font-size="7.4" fill="#222" text-anchor="start" font-weight="normal" font-style="normal" >0.07</text>
<text x="558.40" y="474.70" font-size="7.4" fill="#222" text-anchor="start" font-weight="normal" font-style="normal" >0.08</text>
<text x="570.60" y="523.10" font-size="7.4" fill="#222" text-anchor="start" font-weight="normal" font-style="normal" >0.04</text>
<text x="593.00" y="510.20" font-size="7.4" fill="#222" text-anchor="start" font-weight="normal" font-style="normal" >0.06</text>
<text x="614.50" y="511.80" font-size="7.4" fill="#222" text-anchor="start" font-weight="normal" font-style="normal" >0.01</text>
<text x="628.30" y="490.90" font-size="7.4" fill="#222" text-anchor="start" font-weight="normal" font-style="normal" >&lt;0.001</text>
<text x="661.00" y="368.10" font-size="7.4" fill="#222" text-anchor="start" font-weight="normal" font-style="normal" >0.04</text>
<rect x="367.50" y="529.60" width="314.00" height="26.20" fill="#fff" />
<text x="378.65" y="540.70" font-size="9.5" text-anchor="middle"><tspan fill="#333">s</tspan><tspan fill="#444" font-size="6.0" dy="3.0">vs</tspan><tspan fill="#cc3333" dy="-3.0">S</tspan></text>
<text x="378.65" y="550.80" font-size="9.6" text-anchor="middle"><tspan fill="#333">(</tspan><tspan fill="#cc3333">N</tspan><tspan fill="#cc3333">O</tspan><tspan fill="#333">)</tspan></text>
<text x="400.60" y="540.70" font-size="9.5" text-anchor="middle"><tspan fill="#333">s</tspan><tspan fill="#444" font-size="6.0" dy="3.0">vs</tspan><tspan fill="#cc3333" dy="-3.0">S</tspan></text>
<text x="400.60" y="550.80" font-size="9.6" text-anchor="middle"><tspan fill="#333">(</tspan><tspan fill="#333">n</tspan><tspan fill="#cc3333">O</tspan><tspan fill="#333">)</tspan></text>
<text x="422.85" y="540.70" font-size="9.5" text-anchor="middle"><tspan fill="#333">w</tspan><tspan fill="#444" font-size="6.0" dy="3.0">vs</tspan><tspan fill="#cc3333" dy="-3.0">S</tspan></text>
<text x="422.85" y="550.80" font-size="9.6" text-anchor="middle"><tspan fill="#333">(</tspan><tspan fill="#333">n</tspan><tspan fill="#cc3333">O</tspan><tspan fill="#333">)</tspan></text>
<text x="445.60" y="540.70" font-size="9.5" text-anchor="middle"><tspan fill="#cc3333">H</tspan><tspan fill="#444" font-size="6.0" dy="3.0">vs</tspan><tspan fill="#cc3333" dy="-3.0">S</tspan></text>
<text x="445.60" y="550.80" font-size="9.6" text-anchor="middle"><tspan fill="#333">(</tspan><tspan fill="#333">n</tspan><tspan fill="#cc3333">O</tspan><tspan fill="#333">)</tspan></text>
<text x="468.40" y="540.70" font-size="9.5" text-anchor="middle"><tspan fill="#cc3333">H</tspan><tspan fill="#444" font-size="6.0" dy="3.0">vs</tspan><tspan fill="#cc3333" dy="-3.0">S</tspan></text>
<text x="468.40" y="550.80" font-size="9.6" text-anchor="middle"><tspan fill="#333">(</tspan><tspan fill="#cc3333">N</tspan><tspan fill="#cc3333">O</tspan><tspan fill="#333">)</tspan></text>
<text x="491.15" y="540.70" font-size="9.5" text-anchor="middle"><tspan fill="#cc3333">H</tspan><tspan fill="#444" font-size="6.0" dy="3.0">vs</tspan><tspan fill="#333" dy="-3.0">s</tspan></text>
<text x="491.15" y="550.80" font-size="9.6" text-anchor="middle"><tspan fill="#333">(</tspan><tspan fill="#cc3333">N</tspan><tspan fill="#cc3333">O</tspan><tspan fill="#333">)</tspan></text>
<text x="513.20" y="540.70" font-size="9.5" text-anchor="middle"><tspan fill="#cc3333">H</tspan><tspan fill="#444" font-size="6.0" dy="3.0">vs</tspan><tspan fill="#333" dy="-3.0">s</tspan></text>
<text x="513.20" y="550.80" font-size="9.6" text-anchor="middle"><tspan fill="#333">(</tspan><tspan fill="#333">n</tspan><tspan fill="#cc3333">O</tspan><tspan fill="#333">)</tspan></text>
<text x="535.90" y="540.70" font-size="9.5" text-anchor="middle"><tspan fill="#333">w</tspan><tspan fill="#444" font-size="6.0" dy="3.0">vs</tspan><tspan fill="#333" dy="-3.0">s</tspan></text>
<text x="535.90" y="550.80" font-size="9.6" text-anchor="middle"><tspan fill="#333">(</tspan><tspan fill="#333">n</tspan><tspan fill="#cc3333">O</tspan><tspan fill="#333">)</tspan></text>
<text x="559.25" y="540.70" font-size="9.5" text-anchor="middle"><tspan fill="#333">w</tspan><tspan fill="#444" font-size="6.0" dy="3.0">vs</tspan><tspan fill="#cc3333" dy="-3.0">H</tspan></text>
<text x="559.25" y="550.80" font-size="9.6" text-anchor="middle"><tspan fill="#333">(</tspan><tspan fill="#333">n</tspan><tspan fill="#cc3333">O</tspan><tspan fill="#333">)</tspan></text>
<text x="581.05" y="540.70" font-size="9.5" text-anchor="middle"><tspan fill="#333">o</tspan><tspan fill="#444" font-size="6.0" dy="3.0">vs</tspan><tspan fill="#cc3333" dy="-3.0">O</tspan></text>
<text x="581.05" y="550.80" font-size="9.6" text-anchor="middle"><tspan fill="#333">(</tspan><tspan fill="#cc3333">S</tspan><tspan fill="#cc3333">N</tspan><tspan fill="#333">)</tspan></text>
<text x="602.80" y="540.70" font-size="9.5" text-anchor="middle"><tspan fill="#333">o</tspan><tspan fill="#444" font-size="6.0" dy="3.0">vs</tspan><tspan fill="#cc3333" dy="-3.0">O</tspan></text>
<text x="602.80" y="550.80" font-size="9.6" text-anchor="middle"><tspan fill="#333">(</tspan><tspan fill="#cc3333">H</tspan><tspan fill="#333">n</tspan><tspan fill="#333">)</tspan></text>
<text x="625.45" y="540.70" font-size="9.5" text-anchor="middle"><tspan fill="#333">n</tspan><tspan fill="#444" font-size="6.0" dy="3.0">vs</tspan><tspan fill="#cc3333" dy="-3.0">N</tspan></text>
<text x="625.45" y="550.80" font-size="9.6" text-anchor="middle"><tspan fill="#333">(</tspan><tspan fill="#cc3333">S</tspan><tspan fill="#cc3333">O</tspan><tspan fill="#333">)</tspan></text>
<text x="648.00" y="540.70" font-size="9.5" text-anchor="middle"><tspan fill="#333">n</tspan><tspan fill="#444" font-size="6.0" dy="3.0">vs</tspan><tspan fill="#cc3333" dy="-3.0">N</tspan></text>
<text x="648.00" y="550.80" font-size="9.6" text-anchor="middle"><tspan fill="#333">(</tspan><tspan fill="#333">s</tspan><tspan fill="#cc3333">O</tspan><tspan fill="#333">)</tspan></text>
<text x="670.40" y="540.70" font-size="9.5" text-anchor="middle"><tspan fill="#333">n</tspan><tspan fill="#444" font-size="6.0" dy="3.0">vs</tspan><tspan fill="#cc3333" dy="-3.0">N</tspan></text>
<text x="670.40" y="550.80" font-size="9.6" text-anchor="middle"><tspan fill="#333">(</tspan><tspan fill="#cc3333">H</tspan><tspan fill="#cc3333">O</tspan><tspan fill="#333">)</tspan></text>
<line x1="389.80" y1="529.60" x2="389.80" y2="555.80" stroke="#cccccc" stroke-width="1.3" />
<line x1="411.40" y1="529.60" x2="411.40" y2="555.80" stroke="#cccccc" stroke-width="1.3" />
<line x1="434.30" y1="529.60" x2="434.30" y2="555.80" stroke="#cccccc" stroke-width="1.3" />
<line x1="456.90" y1="529.60" x2="456.90" y2="555.80" stroke="#cccccc" stroke-width="1.3" />
<line x1="479.90" y1="529.60" x2="479.90" y2="555.80" stroke="#cccccc" stroke-width="1.3" />
<line x1="502.40" y1="529.60" x2="502.40" y2="555.80" stroke="#cccccc" stroke-width="1.3" />
<line x1="524.00" y1="529.60" x2="524.00" y2="555.80" stroke="#cccccc" stroke-width="1.3" />
<line x1="547.80" y1="529.60" x2="547.80" y2="555.80" stroke="#cccccc" stroke-width="1.3" />
<line x1="570.70" y1="529.60" x2="570.70" y2="555.80" stroke="#cccccc" stroke-width="1.3" />
<line x1="591.40" y1="529.60" x2="591.40" y2="555.80" stroke="#cccccc" stroke-width="1.3" />
<line x1="614.20" y1="529.60" x2="614.20" y2="555.80" stroke="#cccccc" stroke-width="1.3" />
<line x1="636.70" y1="529.60" x2="636.70" y2="555.80" stroke="#cccccc" stroke-width="1.3" />
<line x1="659.30" y1="529.60" x2="659.30" y2="555.80" stroke="#cccccc" stroke-width="1.3" />
<rect x="367.50" y="529.60" width="314.00" height="26.20" fill="none" stroke="#cccccc" stroke-width="1.0"/>
<rect x="367.50" y="555.80" width="314.00" height="15.60" fill="#000" />
<line x1="570.70" y1="555.80" x2="570.70" y2="571.40" stroke="#d8d8d8" stroke-width="1.4" />
<line x1="614.20" y1="555.80" x2="614.20" y2="571.40" stroke="#d8d8d8" stroke-width="1.4" />
<text x="375.2" y="567.0" font-size="10.8" fill="#fff">Varies by:</text>
<text x="460.7" y="567.0" font-size="10.8" fill="#fff"><tspan font-style="italic">e</tspan><tspan dy="-5" font-size="6">&#8722;</tspan><tspan dy="5"> donor</tspan></text>
<text x="586.4" y="567.0" font-size="10.8" fill="#fff">O<tspan dy="2.5" font-size="7.5">2</tspan></text>
<text x="634.8" y="567.0" font-size="10.8" fill="#fff">NO<tspan dy="2.5" font-size="7.5">3</tspan><tspan dy="-7" font-size="6">&#8722;</tspan></text>
<text x="416.90" y="583.80" font-size="11.0" fill="#222" text-anchor="start" font-weight="normal" font-style="normal" >Pairwise comparisons of aquaria conditions</text>
<text x="49.90" y="363.60" font-size="11.1" fill="#222" text-anchor="start" font-weight="normal" font-style="normal" ><tspan fill="#cc3333">S</tspan>-sulfide replete</text>
<text x="156.00" y="363.60" font-size="11.1" fill="#222" text-anchor="start" font-weight="normal" font-style="normal" >s-low sulfide</text>
<text x="49.90" y="376.10" font-size="11.1" fill="#222" text-anchor="start" font-weight="normal" font-style="normal" ><tspan fill="#cc3333">N</tspan>-nitrate replete</text>
<text x="156.00" y="376.10" font-size="11.1" fill="#222" text-anchor="start" font-weight="normal" font-style="normal" >n-nitrate limiting</text>
<text x="49.90" y="388.60" font-size="11.1" fill="#222" text-anchor="start" font-weight="normal" font-style="normal" ><tspan fill="#cc3333">O</tspan>-oxygen replete</text>
<text x="156.00" y="388.60" font-size="11.1" fill="#222" text-anchor="start" font-weight="normal" font-style="normal" >o-oxygen limiting</text>
<text x="49.90" y="401.10" font-size="11.1" fill="#222" text-anchor="start" font-weight="normal" font-style="normal" ><tspan fill="#cc3333">H</tspan>-hydrogen replete</text>
<text x="158.20" y="401.10" font-size="11.1" fill="#222" text-anchor="start" font-weight="normal" font-style="normal" >w-bottom water</text>
<text x="53.30" y="429.60" font-size="11.1" fill="#222" text-anchor="start" font-weight="normal" font-style="normal" >()-substrates that did not vary between</text>
<text x="53.30" y="441.90" font-size="11.1" fill="#222" text-anchor="start" font-weight="normal" font-style="normal" >comparisons indicated by parentheses</text>
<text x="85.60" y="479.80" font-size="11.1" fill="#222" text-anchor="end" font-weight="normal" font-style="normal" >Direction</text>
<text x="85.60" y="491.30" font-size="11.1" fill="#222" text-anchor="end" font-weight="normal" font-style="normal" >of fold</text>
<text x="85.60" y="502.80" font-size="11.1" fill="#222" text-anchor="end" font-weight="normal" font-style="normal" >change</text>
<rect x="89.40" y="475.60" width="9.40" height="9.20" fill="#cc3311" />
<rect x="89.40" y="493.60" width="9.40" height="9.20" fill="#3368b4" />
<text x="103.70" y="483.50" font-size="11.1" fill="#222" text-anchor="start" font-weight="normal" font-style="normal" >Up</text>
<text x="103.70" y="502.70" font-size="11.1" fill="#222" text-anchor="start" font-weight="normal" font-style="normal" >Down</text>
<text x="209.60" y="479.80" font-size="11.1" fill="#222" text-anchor="end" font-weight="normal" font-style="normal" >Carbon</text>
<text x="209.60" y="491.30" font-size="11.1" fill="#222" text-anchor="end" font-weight="normal" font-style="normal" >fixation</text>
<text x="209.60" y="502.80" font-size="11.1" fill="#222" text-anchor="end" font-weight="normal" font-style="normal" >genes</text>
<rect x="215.80" y="475.60" width="9.40" height="9.20" fill="#000" />
<rect x="215.80" y="493.60" width="9.40" height="9.20" fill="#8c8c8c" />
<text x="230.70" y="483.50" font-size="11.1" fill="#222" text-anchor="start" font-weight="normal" font-style="italic" >cbbM</text>
<text x="230.70" y="502.70" font-size="11.1" fill="#222" text-anchor="start" font-weight="normal" font-style="italic" >aclA</text>
</svg>
</body></html>
